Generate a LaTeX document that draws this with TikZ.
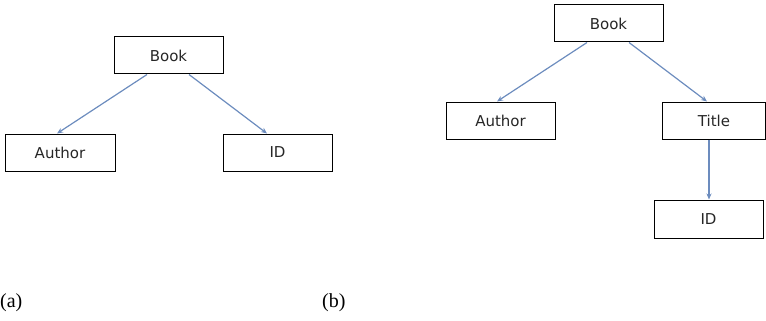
\documentclass[tikz,border=0pt]{standalone}
\usepackage{fontspec}
\setmainfont{Liberation Serif}
\newfontfamily\boxfont{DejaVu Sans}
\usepackage{xcolor}
\usetikzlibrary{arrows.meta}
\definecolor{linkblue}{RGB}{108,140,190}

\begin{document}
\begin{tikzpicture}[
			     x=1pt, y=-1pt,
			     field/.style={draw=black, line width=1pt, minimum width=109pt, minimum height=37pt, inner sep=0pt, font=\boxfont\fontsize{15}{17}\selectfont, text=black!85},
			     link/.style={-{Stealth[length=6pt,width=5pt]}, draw=linkblue, line width=1.2pt},
			     caption/.style={font=\fontsize{20}{23}\selectfont}
			     ]
\useasboundingbox (0,0) rectangle (766,321);
% (a)
\node[field] (bookA) at (168.5,55.5) {Book};
\node[field, minimum width=110pt] (authorA) at (60,152.5) {Author};
\node[field] (idA) at (277.5,152.5) {ID};
\path ([xshift=-21.5pt]bookA.south) edge[link] ([xshift=-3pt]authorA.north);
\path ([xshift=20.5pt]bookA.south) edge[link] ([xshift=-10.5pt]idA.north);
% (b)
\node[field] (bookB) at (608.5,23.5) {Book};
\node[field] (authorB) at (500.5,120.5) {Author};
\node[field, minimum width=103pt] (titleB) at (714,120.5) {Title};
\node[field, minimum height=38pt] (idB) at (708.5,219) {ID};
\path ([xshift=-21.5pt]bookB.south) edge[link] ([xshift=-3.5pt]authorB.north);
\path ([xshift=20.5pt]bookB.south) edge[link] ([xshift=-7pt]titleB.north);
\path ([xshift=-5pt]titleB.south) edge[link] ([xshift=0.5pt]idB.north);
% captions
\node[caption, anchor=west, inner sep=0pt] (capA) at (0,303) {(a)};
\node[caption, anchor=west, inner sep=0pt] (capB) at (322,303) {(b)};
\end{tikzpicture}
\end{document}
